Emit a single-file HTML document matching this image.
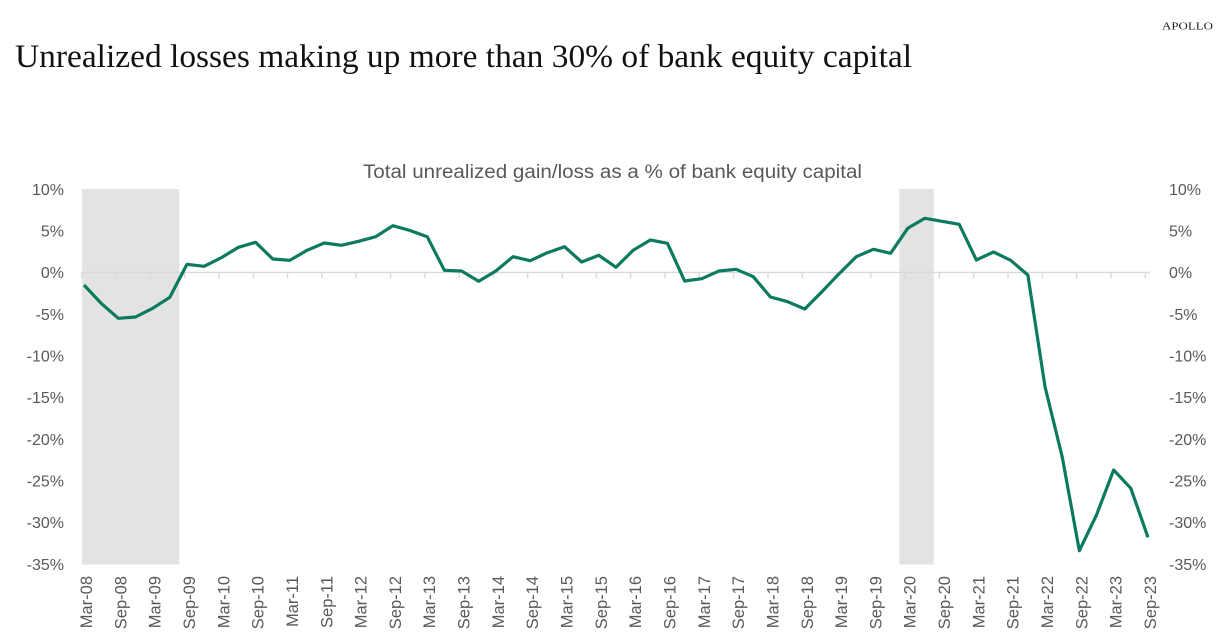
<!DOCTYPE html>
<html>
<head>
<meta charset="utf-8">
<style>
  html,body{margin:0;padding:0;background:#ffffff;}
  body{width:1224px;height:643px;overflow:hidden;}
  svg{display:block;}
</style>
</head>
<body>
<svg width="1224" height="643" viewBox="0 0 1224 643" xmlns="http://www.w3.org/2000/svg">
  <rect x="0" y="0" width="1224" height="643" fill="#ffffff"/>

  <!-- Brand -->
  <text x="1162" y="29.5" font-family="Liberation Serif, serif" font-size="10" fill="#222" textLength="51" lengthAdjust="spacingAndGlyphs">APOLLO</text>

  <!-- Title -->
  <text x="15" y="67" font-family="Liberation Serif, serif" font-size="33" fill="#111" textLength="897" lengthAdjust="spacingAndGlyphs">Unrealized losses making up more than 30% of bank equity capital</text>

  <!-- Chart subtitle -->
  <text x="363" y="178" font-family="Liberation Sans, sans-serif" font-size="19" fill="#595959" textLength="499" lengthAdjust="spacingAndGlyphs">Total unrealized gain/loss as a % of bank equity capital</text>

  <!-- Recession bands -->
  <rect x="82" y="189" width="97.3" height="375.5" fill="#e3e3e3"/>
  <rect x="899.3" y="189" width="34.4" height="375.5" fill="#e3e3e3"/>

  <!-- Zero axis -->
  <line x1="82" y1="272.4" x2="1150" y2="272.4" stroke="#d9d9d9" stroke-width="1.4"/>
  <g stroke="#d9d9d9" stroke-width="1.4">
    <line x1="81.7" y1="272.4" x2="81.7" y2="278"/>
    <line x1="116.0" y1="272.4" x2="116.0" y2="278"/>
    <line x1="150.3" y1="272.4" x2="150.3" y2="278"/>
    <line x1="184.6" y1="272.4" x2="184.6" y2="278"/>
    <line x1="218.9" y1="272.4" x2="218.9" y2="278"/>
    <line x1="253.3" y1="272.4" x2="253.3" y2="278"/>
    <line x1="287.6" y1="272.4" x2="287.6" y2="278"/>
    <line x1="321.9" y1="272.4" x2="321.9" y2="278"/>
    <line x1="356.2" y1="272.4" x2="356.2" y2="278"/>
    <line x1="390.5" y1="272.4" x2="390.5" y2="278"/>
    <line x1="424.8" y1="272.4" x2="424.8" y2="278"/>
    <line x1="459.1" y1="272.4" x2="459.1" y2="278"/>
    <line x1="493.4" y1="272.4" x2="493.4" y2="278"/>
    <line x1="527.7" y1="272.4" x2="527.7" y2="278"/>
    <line x1="562.0" y1="272.4" x2="562.0" y2="278"/>
    <line x1="596.4" y1="272.4" x2="596.4" y2="278"/>
    <line x1="630.7" y1="272.4" x2="630.7" y2="278"/>
    <line x1="665.0" y1="272.4" x2="665.0" y2="278"/>
    <line x1="699.3" y1="272.4" x2="699.3" y2="278"/>
    <line x1="733.6" y1="272.4" x2="733.6" y2="278"/>
    <line x1="767.9" y1="272.4" x2="767.9" y2="278"/>
    <line x1="802.2" y1="272.4" x2="802.2" y2="278"/>
    <line x1="836.5" y1="272.4" x2="836.5" y2="278"/>
    <line x1="870.8" y1="272.4" x2="870.8" y2="278"/>
    <line x1="905.1" y1="272.4" x2="905.1" y2="278"/>
    <line x1="939.4" y1="272.4" x2="939.4" y2="278"/>
    <line x1="973.8" y1="272.4" x2="973.8" y2="278"/>
    <line x1="1008.1" y1="272.4" x2="1008.1" y2="278"/>
    <line x1="1042.4" y1="272.4" x2="1042.4" y2="278"/>
    <line x1="1076.7" y1="272.4" x2="1076.7" y2="278"/>
    <line x1="1111.0" y1="272.4" x2="1111.0" y2="278"/>
    <line x1="1145.3" y1="272.4" x2="1145.3" y2="278"/>
  </g>

  <!-- Left Y labels -->
  <g font-family="Liberation Sans, sans-serif" font-size="16" fill="#595959" text-anchor="end">
    <text x="64" y="195">10%</text>
    <text x="64" y="236.5">5%</text>
    <text x="64" y="278">0%</text>
    <text x="64" y="319.8">-5%</text>
    <text x="64" y="361.5">-10%</text>
    <text x="64" y="403">-15%</text>
    <text x="64" y="444.8">-20%</text>
    <text x="64" y="486.5">-25%</text>
    <text x="64" y="528">-30%</text>
    <text x="64" y="569.8">-35%</text>
  </g>

  <!-- Right Y labels -->
  <g font-family="Liberation Sans, sans-serif" font-size="16" fill="#595959" text-anchor="start">
    <text x="1169" y="195">10%</text>
    <text x="1169" y="236.5">5%</text>
    <text x="1169" y="278">0%</text>
    <text x="1169" y="319.8">-5%</text>
    <text x="1169" y="361.5">-10%</text>
    <text x="1169" y="403">-15%</text>
    <text x="1169" y="444.8">-20%</text>
    <text x="1169" y="486.5">-25%</text>
    <text x="1169" y="528">-30%</text>
    <text x="1169" y="569.8">-35%</text>
  </g>

  <!-- Data line -->
  <polyline fill="none" stroke="#0b7a5e" stroke-width="3.2" stroke-linejoin="round" stroke-linecap="butt"
    points="84,285 101.16,303.3 118.32,318.3 135.48,317 152.64,308.3 169.81,297.3 186.97,264.3 204.13,266.3 221.29,257.7 238.45,247.3 255.61,242.3 272.77,259 289.93,260.3 307.09,250.3 324.25,243 341.42,245.3 358.58,241.3 375.74,236.7 392.9,225.7 410.06,230.5 427.22,236.7 444.38,270.3 461.54,271 478.7,281.3 495.86,271 513.03,256.7 530.19,260.7 547.35,252.7 564.51,246.7 581.67,262 598.83,255.3 615.99,267.3 633.15,250.3 650.31,240 667.47,243.3 684.64,281 701.8,278.7 718.96,271 736.12,269.3 753.28,276.7 770.44,297 787.6,301.7 804.76,309 821.92,291.7 839.08,273.7 856.25,256.7 873.41,249.3 890.57,253.3 907.73,228.3 924.89,218.3 942.05,221.3 959.21,224.3 976.37,260 993.53,252 1010.69,260.3 1027.86,275 1045.02,386.7 1062.18,456.7 1079.34,550.7 1096.5,515 1113.66,470 1130.82,488.3 1147.98,537.3"/>

  <!-- X labels -->
  <g font-family="Liberation Sans, sans-serif" font-size="16.5" fill="#595959" text-anchor="end">
    <text transform="translate(92,576) rotate(-90)">Mar-08</text>
    <text transform="translate(126.32,576) rotate(-90)">Sep-08</text>
    <text transform="translate(160.64,576) rotate(-90)">Mar-09</text>
    <text transform="translate(194.97,576) rotate(-90)">Sep-09</text>
    <text transform="translate(229.29,576) rotate(-90)">Mar-10</text>
    <text transform="translate(263.61,576) rotate(-90)">Sep-10</text>
    <text transform="translate(297.93,576) rotate(-90)">Mar-11</text>
    <text transform="translate(332.25,576) rotate(-90)">Sep-11</text>
    <text transform="translate(366.58,576) rotate(-90)">Mar-12</text>
    <text transform="translate(400.9,576) rotate(-90)">Sep-12</text>
    <text transform="translate(435.22,576) rotate(-90)">Mar-13</text>
    <text transform="translate(469.54,576) rotate(-90)">Sep-13</text>
    <text transform="translate(503.86,576) rotate(-90)">Mar-14</text>
    <text transform="translate(538.19,576) rotate(-90)">Sep-14</text>
    <text transform="translate(572.51,576) rotate(-90)">Mar-15</text>
    <text transform="translate(606.83,576) rotate(-90)">Sep-15</text>
    <text transform="translate(641.15,576) rotate(-90)">Mar-16</text>
    <text transform="translate(675.47,576) rotate(-90)">Sep-16</text>
    <text transform="translate(709.8,576) rotate(-90)">Mar-17</text>
    <text transform="translate(744.12,576) rotate(-90)">Sep-17</text>
    <text transform="translate(778.44,576) rotate(-90)">Mar-18</text>
    <text transform="translate(812.76,576) rotate(-90)">Sep-18</text>
    <text transform="translate(847.08,576) rotate(-90)">Mar-19</text>
    <text transform="translate(881.41,576) rotate(-90)">Sep-19</text>
    <text transform="translate(915.73,576) rotate(-90)">Mar-20</text>
    <text transform="translate(950.05,576) rotate(-90)">Sep-20</text>
    <text transform="translate(984.37,576) rotate(-90)">Mar-21</text>
    <text transform="translate(1018.69,576) rotate(-90)">Sep-21</text>
    <text transform="translate(1053.02,576) rotate(-90)">Mar-22</text>
    <text transform="translate(1087.34,576) rotate(-90)">Sep-22</text>
    <text transform="translate(1121.66,576) rotate(-90)">Mar-23</text>
    <text transform="translate(1155.98,576) rotate(-90)">Sep-23</text>
  </g>
</svg>
</body>
</html>
